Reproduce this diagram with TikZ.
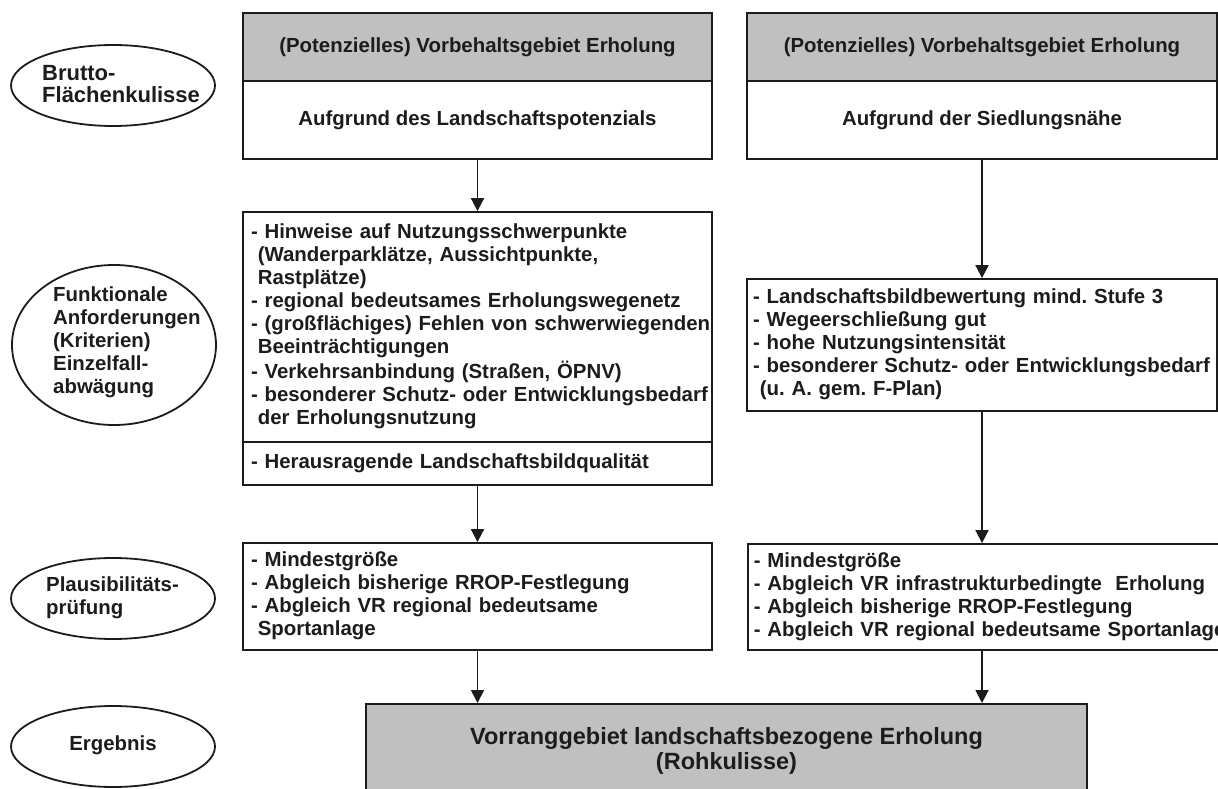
\documentclass[tikz,border=0pt]{standalone}
\usepackage{fontspec}
\setmainfont{Liberation Sans}
\usetikzlibrary{shapes.geometric,arrows.meta,positioning,calc}
\definecolor{boxgray}{RGB}{192,192,192}
\definecolor{ink}{RGB}{28,28,28}
\frenchspacing
\newcommand{\itemlines}[1]{\begin{tabular}{@{}l@{}}#1\end{tabular}}

\begin{document}
\begin{tikzpicture}[x=1pt, y=-1pt,
  every node/.style={font=\bfseries\fontsize{20.4}{23}\selectfont, text=ink},
  box/.style={draw=ink, line width=1.8pt, minimum width=469pt, inner sep=0pt},
  listbox/.style={box, text width=453pt, inner xsep=8pt},
  oval/.style={draw=ink, ellipse, line width=1.8pt, minimum width=204pt, inner sep=0pt},
  ovaltext/.style={anchor=west, inner sep=0pt},
  arrow/.style={-{Triangle[length=13pt,width=13pt]}, line width=1.8pt, draw=ink}
]
  \useasboundingbox (0,0) rectangle (1218,789);
  \clip (0,0) rectangle (1218,789);

  % row labels on the left
  \node[oval, minimum height=81pt] (brutto) at (113,85.5) {};
  \node[ovaltext, font=\bfseries\fontsize{22}{20.5}\selectfont] (bruttoT) at (42,87) {\itemlines{Brutto-\\Fl\"achenkulisse}};
  \node[oval, minimum height=160pt] (funkt) at (114,345) {};
  \node[ovaltext] (funktT) at (53,343) {\itemlines{Funktionale\\Anforderungen\\(Kriterien)\\Einzelfall-\\abw\"agung}};
  \node[oval, minimum height=81pt] (plaus) at (113,598.5) {};
  \node[ovaltext] (plausT) at (46,598) {\itemlines{Plausibilit\"ats-\\pr\"ufung}};
  \node[oval, minimum height=81pt] (ergebnis) at (113,746.5) {};
  \node[ovaltext, anchor=center] (ergebnisT) at (113,745) {Ergebnis};

  % left column
  \node[box, fill=boxgray, minimum height=68pt] (hdrL) at (477.5,47) {(Potenzielles) Vorbehaltsgebiet Erholung};
  \node[box, minimum height=78pt] (bodyL) at (477.5,120) {Aufgrund des Landschaftspotenzials};
  \node[listbox, minimum height=230pt] (kritL) at (477.5,327) {\itemlines{- Hinweise auf Nutzungsschwerpunkte\\
    \ (Wanderparkl\"atze, Aussichtpunkte,\\
    \ Rastpl\"atze)\\
    - regional bedeutsames Erholungswegenetz\\
    - (gro\ss fl\"achiges) Fehlen von schwerwiegenden\\
    \ Beeintr\"achtigungen\\
    - Verkehrsanbindung (Stra\ss en, \"OPNV)\\
    - besonderer Schutz- oder Entwicklungsbedarf\\
    \ der Erholungsnutzung}};
  \node[listbox, minimum height=43pt] (kritL2) at (477.5,463.5) {\itemlines{- Herausragende Landschaftsbildqualit\"at}};
  \node[listbox, minimum height=107pt] (plausL) at (477.5,596.5) {\itemlines{- Mindestgr\"o\ss e\\
    - Abgleich bisherige RROP-Festlegung\\
    - Abgleich VR regional bedeutsame\\
    \ Sportanlage}};

  % right column
  \node[box, fill=boxgray, minimum width=470pt, minimum height=68pt] (hdrR) at (982,47) {(Potenzielles) Vorbehaltsgebiet Erholung};
  \node[box, minimum width=470pt, minimum height=78pt] (bodyR) at (982,120) {Aufgrund der Siedlungsn\"ahe};
  \node[listbox, text width=458pt, inner xsep=6pt, minimum height=132pt] (kritR) at (982,345) {\itemlines{- Landschaftsbildbewertung mind. Stufe 3\\
    - Wegeerschlie\ss ung gut\\
    - hohe Nutzungsintensit\"at\\
    - besonderer Schutz- oder Entwicklungsbedarf\\
    \ (u. A. gem. F-Plan)}};
  \node[listbox, text width=490pt, inner xsep=6pt, minimum height=106pt, anchor=west] (plausR) at (747,597) {\itemlines{- Mindestgr\"o\ss e\\
    - Abgleich VR infrastrukturbedingte\ \ Erholung\\
    - Abgleich bisherige RROP-Festlegung\\
    - Abgleich VR regional bedeutsame Sportanlage}};

  % result
  \node[box, fill=boxgray, minimum width=721pt, minimum height=94pt, anchor=north, align=center,
    font=\bfseries\fontsize{23.5}{25.5}\selectfont] (res) at (726.5,703) {Vorranggebiet landschaftsbezogene Erholung\\(Rohkulisse)};

  \foreach \a/\b in {bodyL/kritL, bodyR/kritR, kritL2/plausL}
    \draw[arrow] (\a.south) -- (\a.south |- \b.north);
  \draw[arrow] (kritR.south) -- (kritR.south |- plausR.north);
  \draw[arrow] (plausL.south) -- (plausL.south |- res.north);
  \draw[arrow] (kritR.south |- plausR.south) -- (kritR.south |- res.north);
\end{tikzpicture}
\end{document}
